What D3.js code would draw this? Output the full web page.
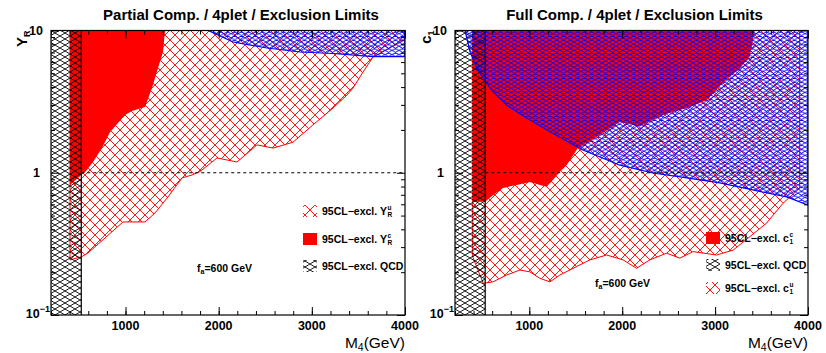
<!DOCTYPE html>
<html><head><meta charset="utf-8">
<script src="https://cdn.jsdelivr.net/npm/d3@7"></script>
<style>body{margin:0;background:#fff}text{font-family:"Liberation Sans",Arial,sans-serif;fill:#000}</style>
</head><body><svg id="c" width="826" height="353"></svg>
<script>
// ---------- data ----------
const massDomain = [200, 4000];
const couplingDomain = [0.1, 10];
const massMajorTicks = [1000, 2000, 3000, 4000];
const massMinorTicks = d3.range(200, 4001, 200);
const couplingMajorTicks = [0.1, 1, 10];
const couplingMinorTicks = [0.2,0.3,0.4,0.5,0.6,0.7,0.8,0.9,2,3,4,5,6,7,8,9];
const qcdLimit = 525;
const referenceCoupling = 1;

// left panel (partial compositeness): boundaries [M4, Y_R]
const leftTitle = "Partial Comp. / 4plet / Exclusion Limits";
const yRcSolid = [[404,0.82],[522,0.96],[565,1.01],[651,1.19],[747,1.49],[833,1.93],[919,2.24],[994,2.55],[1069,2.72],[1209,2.90],[1284,3.94],[1349,5.45],[1402,7.06],[1424,10]];
const yRuHatch = [[404,0.244],[530,0.257],[597,0.273],[780,0.348],[973,0.451],[1209,0.451],[1316,0.521],[1456,0.676],[1606,0.92],[1714,0.964],[1800,1.02],[1982,1.27],[2197,1.19],[2411,1.57],[2583,1.49],[2798,1.64],[3012,2.17],[3227,2.85],[3377,3.52],[3442,3.94],[3549,5.1],[3656,6.5],[4000,8.6]];
const yRBlue = [[1886,10],[2154,8.3],[2519,7.53],[2873,7.06],[3227,6.89],[3656,6.55],[4000,6.55]];

// right panel (full compositeness): boundaries [M4, c_1]
const rightTitle = "Full Comp. / 4plet / Exclusion Limits";
const c1cSolid = [[390,0.626],[523,0.626],[612,0.698],[716,0.782],[864,0.82],[1007,0.861],[1114,0.82],[1186,0.798],[1254,0.889],[1329,1.017],[1401,1.13],[1523,1.49],[1760,1.84],[1975,2.27],[2190,2.11],[2437,2.55],[2695,2.85],[2911,3.24],[3083,4.28],[3266,5.44],[3373,6.55],[3405,8.34],[3427,10]];
const c1uHatch = [[390,0.257],[504,0.167],[609,0.171],[756,0.191],[899,0.207],[1007,0.201],[1114,0.181],[1222,0.171],[1329,0.191],[1509,0.219],[1652,0.244],[1832,0.264],[2010,0.244],[2154,0.213],[2297,0.244],[2477,0.272],[2620,0.251],[2763,0.279],[3015,0.264],[3194,0.286],[3373,0.355],[3553,0.442],[3731,0.61],[3911,0.78]];
const c1Blue = [[308,10],[361,7.1],[433,5.45],[501,4.64],[609,3.71],[756,2.99],[971,2.43],[1222,1.94],[1577,1.445],[1975,1.13],[2330,0.996],[2695,0.92],[3050,0.848],[3405,0.757],[3771,0.676],[4000,0.593]];

const fa = "600 GeV";

// ---------- drawing ----------
const svg = d3.select("#c");
const defs = svg.append("defs");
function pattern(id, w, h, color, sw) {
  const p = defs.append("pattern").attr("id", id).attr("patternUnits", "userSpaceOnUse")
    .attr("width", w).attr("height", h);
  p.append("path").attr("d", `M0,0L${w},${h}M0,${h}L${w},0M${-w},0L0,${h}M${w},0L${2*w},${h}M${-w},${h}L0,0M${w},${h}L${2*w},0`)
    .attr("stroke", color).attr("stroke-width", sw).attr("fill", "none");
}
pattern("redHatch", 10, 10, "#ff0000", 0.9);
pattern("blueHatch", 7, 4.2, "#0000ff", 0.9);
pattern("qcdHatch", 10, 6, "#000", 0.9);

function panel(cfg) {
  const x = d3.scaleLinear().domain(massDomain).range([cfg.x0, cfg.x1]);
  const y = d3.scaleLog().domain(couplingDomain).range([cfg.yb, cfg.yt]);
  const g = svg.append("g");
  const clipId = "clip" + cfg.id;
  defs.append("clipPath").attr("id", clipId).append("rect")
    .attr("x", cfg.x0).attr("y", cfg.yt).attr("width", cfg.x1 - cfg.x0).attr("height", cfg.yb - cfg.yt);
  const area = g.append("g").attr("clip-path", `url(#${clipId})`);
  const line = d3.line().x(d => x(d[0])).y(d => y(d[1]));
  const region = pts => {
    const top = couplingDomain[1];
    const first = pts[0][1] >= top ? [] : [[pts[0][0], top]];
    const last = pts[pts.length-1][1] >= top ? [] : [[pts[pts.length-1][0], top]];
    return line(first.concat(pts, last)) + "Z";
  };
  area.append("path").attr("d", region(cfg.hatch)).attr("fill", "url(#redHatch)")
    .attr("stroke", "#ff0000").attr("stroke-width", 1);
  area.append("path").attr("d", region(cfg.solid)).attr("fill", "#ff0000");
  area.append("rect").attr("x", x(massDomain[0])).attr("y", cfg.yt)
    .attr("width", x(qcdLimit) - x(massDomain[0])).attr("height", cfg.yb - cfg.yt)
    .attr("fill", "url(#qcdHatch)");
  area.append("line").attr("x1", x(qcdLimit)).attr("x2", x(qcdLimit)).attr("y1", cfg.yt).attr("y2", cfg.yb)
    .attr("stroke", "#000").attr("stroke-width", 1.2);
  area.append("path").attr("d", region(cfg.blue)).attr("fill", "url(#blueHatch)")
    .attr("stroke", "#0000ff").attr("stroke-width", 1.2);
  area.append("line").attr("x1", x(qcdLimit)).attr("x2", cfg.x1)
    .attr("y1", y(referenceCoupling)).attr("y2", y(referenceCoupling))
    .attr("stroke", "#000").attr("stroke-width", 1).attr("stroke-dasharray", "3,3");

  const ax = (gen, scale, vals, size, tr) => {
    const a = g.append("g").attr("transform", tr)
      .call(gen(scale).tickValues(vals).tickSize(-size).tickFormat(""));
    a.select(".domain").remove();
    a.selectAll("line").attr("stroke", "#000").attr("stroke-width", 1);
  };
  ax(d3.axisBottom, x, massMinorTicks, 4, `translate(0,${cfg.yb})`);
  ax(d3.axisBottom, x, massMajorTicks, 8, `translate(0,${cfg.yb})`);
  ax(d3.axisTop, x, massMinorTicks, 4, `translate(0,${cfg.yt})`);
  ax(d3.axisTop, x, massMajorTicks, 8, `translate(0,${cfg.yt})`);
  ax(d3.axisLeft, y, couplingMinorTicks, 4, `translate(${cfg.x0},0)`);
  ax(d3.axisLeft, y, couplingMajorTicks, 8, `translate(${cfg.x0},0)`);
  ax(d3.axisRight, y, couplingMinorTicks, 4, `translate(${cfg.x1},0)`);
  ax(d3.axisRight, y, couplingMajorTicks, 8, `translate(${cfg.x1},0)`);
  g.append("rect").attr("x", cfg.x0).attr("y", cfg.yt).attr("width", cfg.x1 - cfg.x0)
    .attr("height", cfg.yb - cfg.yt).attr("fill", "none").attr("stroke", "#000").attr("stroke-width", 1.2);

  massMajorTicks.forEach(v => {
    g.append("text").attr("x", x(v)).attr("y", cfg.yb + 15).attr("text-anchor", "middle")
      .attr("font-size", 12.5).attr("font-weight", "bold").text(v);
  });
  const yl = g.append("g").attr("font-size", 12.5).attr("font-weight", "bold");
  yl.append("text").attr("x", cfg.x0 - 8).attr("y", y(10) + 4).attr("text-anchor", "end").text("10");
  yl.append("text").attr("x", cfg.x0 - 11).attr("y", y(1) + 4.5).attr("text-anchor", "end").text("1");
  const t01 = yl.append("text").attr("x", cfg.x0 - 1).attr("y", y(0.1) + 3).attr("text-anchor", "end");
  t01.append("tspan").text("10");
  t01.append("tspan").attr("dy", -6).attr("font-size", 9).text("\u22121");

  svg.append("text").attr("x", (cfg.x0 + cfg.x1) / 2 + cfg.titleDx).attr("y", 20).attr("text-anchor", "middle")
    .attr("font-size", 15).attr("font-weight", "bold").text(cfg.title);
  const xt = svg.append("text").attr("x", cfg.x1).attr("y", 348).attr("text-anchor", "end")
    .attr("font-size", 15.5);
  xt.append("tspan").text("M");
  xt.append("tspan").attr("dy", 3).attr("font-size", 10.5).text("4");
  xt.append("tspan").attr("dy", -3).text("(GeV)");
  const yt = svg.append("text").attr("transform", `translate(${cfg.x0 - 24},${cfg.yt})rotate(-90)`)
    .attr("text-anchor", "end").attr("font-size", 15).attr("font-weight", "bold");
  yt.append("tspan").text(cfg.yLabel);
  yt.append("tspan").attr("dy", 3).attr("font-size", 9).text(cfg.ySub);

  const ft = svg.append("text").attr("x", cfg.faX).attr("y", cfg.faY).attr("font-size", 10.5).attr("font-weight", "bold");
  ft.append("tspan").text("f");
  ft.append("tspan").attr("dy", 2).attr("font-size", 7).text("a");
  ft.append("tspan").attr("dy", -2).text("=" + fa);

  cfg.legend.forEach((e, i) => {
    const cy = cfg.legY[i];
    const sx = cfg.legX;
    if (e.kind === "solid") svg.append("rect").attr("x", sx).attr("y", cy - 6).attr("width", 14).attr("height", 12).attr("fill", "#ff0000");
    else svg.append("rect").attr("x", sx).attr("y", cy - 6).attr("width", 14).attr("height", 12)
      .attr("fill", e.kind === "hatch" ? "url(#redHatch)" : "url(#qcdHatch)");
    const tx = sx + 19;
    const t = svg.append("text").attr("x", tx).attr("y", cy + 4).attr("font-size", 10.5).attr("font-weight", "bold").text(e.main);
    if (e.sub) {
      const w = t.node().getComputedTextLength();
      svg.append("text").attr("x", tx + w + 0.5).attr("y", cy + 6).attr("font-size", 6.5).attr("font-weight", "bold").text(e.sub);
      svg.append("text").attr("x", tx + w + 0.5).attr("y", cy - 1).attr("font-size", 6.5).attr("font-weight", "bold").text(e.sup);
    }
  });
}

panel({id: "L", x0: 51, x1: 405, yt: 30.5, yb: 315, title: leftTitle, titleDx: 13,
  hatch: yRuHatch, solid: yRcSolid, blue: yRBlue, yLabel: "Y", ySub: "R",
  faX: 197, faY: 272, legX: 303, legY: [211, 239, 266],
  legend: [{kind: "hatch", main: "95CL\u2212excl. Y", sub: "R", sup: "u"},
           {kind: "solid", main: "95CL\u2212excl. Y", sub: "R", sup: "c"},
           {kind: "qcd", main: "95CL\u2212excl. QCD"}]});
panel({id: "R", x0: 455, x1: 808, yt: 30.5, yb: 315, title: rightTitle, titleDx: 3,
  hatch: c1uHatch, solid: c1cSolid, blue: c1Blue, yLabel: "c", ySub: "1",
  faX: 595, faY: 287, legX: 706, legY: [238, 265, 288],
  legend: [{kind: "solid", main: "95CL\u2212excl. c", sub: "1", sup: "c"},
           {kind: "qcd", main: "95CL\u2212excl. QCD"},
           {kind: "hatch", main: "95CL\u2212excl. c", sub: "1", sup: "u"}]});
</script></body></html>
